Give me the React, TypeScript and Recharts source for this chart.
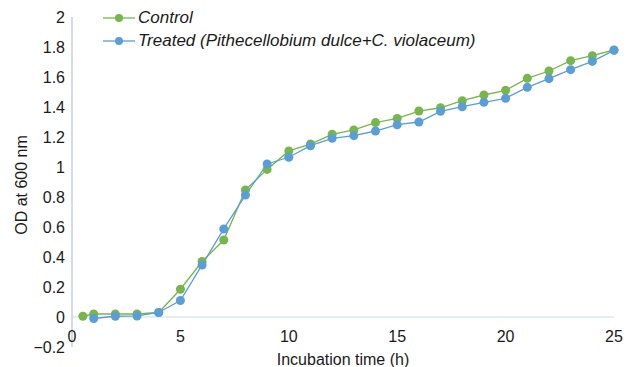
import { LineChart, Line, XAxis, YAxis, ReferenceLine } from 'recharts';

// incubation time (h)
const hours = [0.5, 1, 2, 3, 4, 5, 6, 7, 8, 9, 10, 11, 12, 13, 14, 15, 16, 17, 18, 19, 20, 21, 22, 23, 24, 25];

// OD at 600 nm
const control = [
  0.005, 0.02, 0.02, 0.02, 0.03, 0.185, 0.37, 0.513, 0.847, 0.984, 1.107, 1.153, 1.218,
  1.247, 1.296, 1.324, 1.373, 1.395, 1.442, 1.48, 1.511, 1.591, 1.64, 1.709, 1.742, 1.78,
];
const treated = [
  null, -0.01, 0.005, 0.007, 0.03, 0.11, 0.347, 0.587, 0.813, 1.02, 1.065, 1.142, 1.191,
  1.209, 1.24, 1.282, 1.3, 1.371, 1.402, 1.431, 1.458, 1.531, 1.589, 1.649, 1.704, 1.778,
];

const xTicks = [0, 5, 10, 15, 20, 25];
const yTicks = [-0.2, 0, 0.2, 0.4, 0.6, 0.8, 1, 1.2, 1.4, 1.6, 1.8, 2];

const seriesNames = ['Control', 'Treated (Pithecellobium dulce+C. violaceum)'];

const GREEN = '#77b64a';
const BLUE = '#5b9dd9';
const FONT = '"Liberation Sans", Arial, sans-serif';
const INK = '#1a1a1a';

const rows = hours.map((h, i) => ({ hour: h, control: control[i], treated: treated[i] }));

function XTick({ x, y, payload }: any) {
  // tick labels sit just under the zero line, not under the plot bottom
  return (
    <text x={x} y={y - 13} textAnchor="middle" dominantBaseline="central" fill={INK} fontSize={16} fontFamily={FONT}>
      {payload.value}
    </text>
  );
}

function LegendBox() {
  const items = [
    { name: seriesNames[0], color: GREEN },
    { name: seriesNames[1], color: BLUE },
  ];
  return (
    <div
      style={{
        position: 'absolute',
        left: 103,
        top: 6,
        fontFamily: FONT,
        fontSize: 17,
        fontStyle: 'italic',
        color: INK,
        whiteSpace: 'nowrap',
      }}
    >
      {items.map((it) => (
        <div key={it.name} style={{ display: 'flex', alignItems: 'center', height: 23 }}>
          <svg width={32} height={10} style={{ marginRight: 3 }}>
            <line x1={0} y1={5} x2={32} y2={5} stroke={it.color} strokeWidth={1.3} />
            <circle cx={16} cy={5} r={4} fill={it.color} />
          </svg>
          <span>{it.name}</span>
        </div>
      ))}
    </div>
  );
}

export default function App() {
  return (
    <div style={{ position: 'absolute', left: 0, top: 0, width: 634, height: 367, background: '#fff' }}>
      <LineChart width={634} height={367} data={rows} margin={{ top: 17, right: 20, left: 0, bottom: 0 }}>
        <XAxis
          dataKey="hour"
          type="number"
          domain={[0, 25]}
          ticks={xTicks}
          axisLine={false}
          tickLine={false}
          tickSize={0}
          height={20}
          tick={<XTick />}
          label={({ viewBox }: any) => (
            <text
              x={viewBox.x + viewBox.width / 2}
              y={viewBox.y + 12}
              textAnchor="middle"
              dominantBaseline="central"
              fill={INK}
              fontSize={16}
              fontFamily={FONT}
            >
              Incubation time (h)
            </text>
          )}
        />
        <YAxis
          domain={[-0.2, 2]}
          ticks={yTicks}
          width={72}
          tickLine={false}
          tickSize={0}
          tickMargin={7}
          axisLine={{ stroke: '#c5d0dc', strokeWidth: 1.5 }}
          tick={{ fill: INK, fontSize: 16, fontFamily: FONT }}
          tickFormatter={(v: number) => (v < 0 ? '\u22120.2' : String(v))}
          label={({ viewBox }: any) => {
            const cx = 21;
            const cy = viewBox.y + viewBox.height / 2 + 3;
            return (
              <text
                x={cx}
                y={cy}
                transform={`rotate(-90 ${cx} ${cy})`}
                textAnchor="middle"
                dominantBaseline="central"
                fill={INK}
                fontSize={16}
                fontFamily={FONT}
              >
                OD at 600 nm
              </text>
            );
          }}
        />
        <ReferenceLine y={0} stroke="#dce8f2" strokeWidth={1.5} />
        <Line
          dataKey="control"
          name={seriesNames[0]}
          stroke={GREEN}
          strokeWidth={1.3}
          dot={{ r: 4.5, fill: GREEN, stroke: 'none' }}
          isAnimationActive={false}
        />
        <Line
          dataKey="treated"
          name={seriesNames[1]}
          stroke={BLUE}
          strokeWidth={1.3}
          dot={{ r: 4.5, fill: BLUE, stroke: 'none' }}
          isAnimationActive={false}
        />
      </LineChart>
      <LegendBox />
    </div>
  );
}
